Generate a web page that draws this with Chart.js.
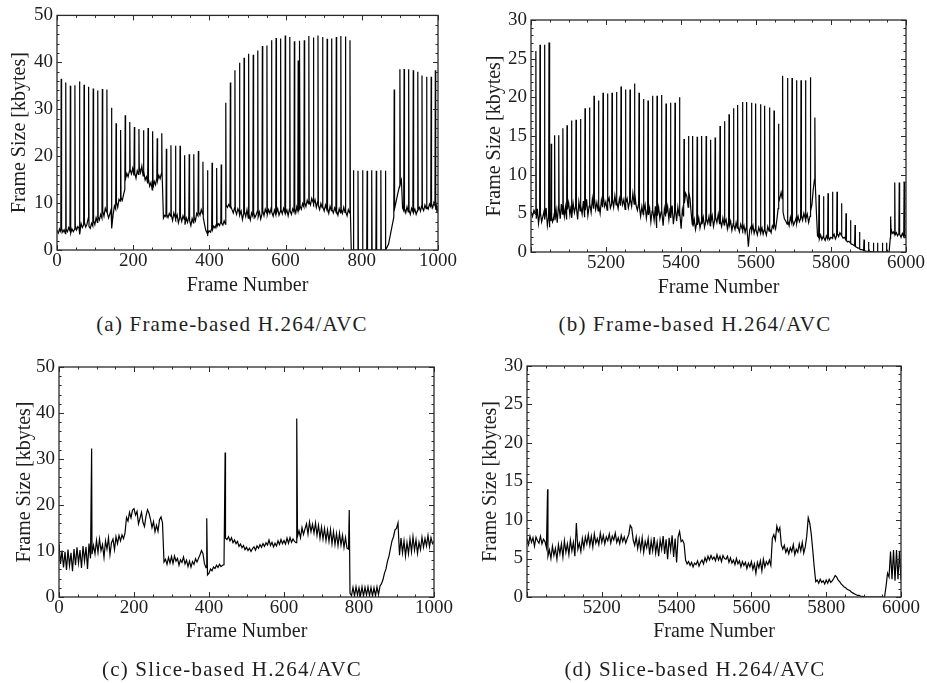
<!DOCTYPE html>
<html>
<head>
<meta charset="utf-8">
<title>Frame size traces</title>
<script src="https://cdn.jsdelivr.net/npm/chart.js@4.4.1/dist/chart.umd.min.js"></script>
<style>
  html, body { margin: 0; padding: 0; background: #fff; }
  #page { position: relative; width: 927px; height: 683px; overflow: hidden; }
  #page canvas { position: absolute; }
  .caption {
    position: absolute;
    width: 464px;
    text-align: center;
    font-family: 'Liberation Serif', serif;
    font-size: 21px;
    letter-spacing: 1.2px;
    line-height: 1;
    color: #1e1e1e;
    white-space: nowrap;
  }
</style>
</head>
<body>
<div id="page">
  <canvas id="chartA" width="463" height="300" style="left:0;top:0;width:463px;height:300px"></canvas>
  <canvas id="chartB" width="464" height="300" style="left:463px;top:0;width:464px;height:300px"></canvas>
  <canvas id="chartC" width="463" height="342" style="left:0;top:341px;width:463px;height:342px"></canvas>
  <canvas id="chartD" width="464" height="342" style="left:463px;top:341px;width:464px;height:342px"></canvas>
  <div class="caption" style="left:0;top:314px">(a) Frame-based H.264/AVC</div>
  <div class="caption" style="left:463px;top:314px">(b) Frame-based H.264/AVC</div>
  <div class="caption" style="left:0;top:659px">(c) Slice-based H.264/AVC</div>
  <div class="caption" style="left:463px;top:659px">(d) Slice-based H.264/AVC</div>
</div>
<script>
const FONT = "'Liberation Serif', serif";
const INK = '#1e1e1e';

// (a) frame-based, frames 0..1000
// I-frame positions and sizes; null = lead-in without an I-frame
const iFramesA = [0,
  11, 23, 35, 47, 59, 71, 83, 95, 107, 119, 131, 143, 155, 167, 179, 191, 203, 215, 227, 239, 251, 263, 275,
  287, 299, 311, 323, 335, 347, 359, 371, 383, 395, 407, 419, 431,
  443, 455, 467, 479, 491, 503, 515, 527, 539, 551, 563, 575, 587, 599, 611, 623, 633, 637,
  649, 661, 673, 685, 697, 709, 721, 733, 745, 757, 769,
  778, 790, 802, 814, 826, 838, 850, 862,
  885, 900, 911, 923, 935, 947, 958, 970, 982, 993];
const iSizesA = [null,
  36.5, 35.7, 35.0, 35.1, 35.9, 35.2, 34.8, 34.4, 34.0, 34.3, 34.2, 30.3, 27.0, 25.6, 28.7, 27.3, 26.2, 25.8, 25.5, 26.0, 25.3, 23.8, 24.9,
  21.6, 22.3, 22.2, 22.2, 20.2, 20.4, 20.4, 21.1, 18.8, 17.0, 18.6, 17.5, 18.2,
  31.4, 35.7, 38.3, 39.9, 41.0, 41.8, 41.6, 42.5, 43.5, 43.6, 44.7, 45.2, 45.1, 45.7, 45.4, 44.5, 40.4, 44.6,
  44.7, 45.6, 45.3, 45.7, 45.4, 45.0, 45.1, 45.4, 45.6, 45.5, 44.7,
  17.0, 16.9, 17.0, 16.9, 17.0, 16.9, 17.0, 16.9,
  34.2, 38.5, 38.6, 38.5, 38.3, 38.0, 37.2, 36.9, 36.9, 38.3];
// P/B frame sizes, four samples spread across each GOP
const pSizesA = [
  [4.2, 3.6, 4.5, 3.9],
  [4.6, 3.8, 4.3, 3.5], [4.4, 3.9, 4.8, 4.1], [3.6, 4.5, 3.9, 4.4], [5.2, 4.3, 5.0, 4.6],
  [3.3, 5.6, 4.8, 5.4], [5.8, 4.9, 5.5, 6.8], [5.0, 4.6, 5.7, 5.1], [6.2, 5.4, 6.9, 5.9],
  [7.1, 6.4, 7.6, 6.8], [8.3, 7.2, 8.9, 8.1], [7.9, 6.8, 7.7, 8.6], [4.6, 7.5, 9.4, 8.7],
  [10.2, 9.1, 10.8, 10.4], [11.2, 10.6, 11.8, 12.9], [15.2, 16.3, 15.6, 16.8], [17.1, 16.2, 17.4, 15.9],
  [16.4, 15.3, 16.9, 16.1], [17.6, 16.5, 17.9, 15.8], [16.8, 14.9, 15.6, 14.2], [15.1, 13.6, 14.4, 12.8],
  [13.2, 14.6, 13.9, 15.4], [14.8, 15.9, 15.2, 16.3], [16.1, 6.8, 7.4, 7.1],
  [7.6, 6.9, 7.8, 7.2], [7.4, 6.3, 7.9, 7.0], [6.6, 7.5, 5.8, 6.9], [7.2, 6.1, 7.3, 6.5],
  [5.4, 6.8, 5.9, 7.1], [6.3, 5.2, 6.7, 5.8], [7.0, 6.2, 7.8, 7.3], [8.1, 7.4, 8.6, 7.7],
  [6.9, 5.4, 4.2, 3.6], [3.4, 4.1, 3.8, 4.6], [4.3, 5.1, 4.7, 5.4], [5.0, 5.6, 5.2, 6.1],
  [5.7, 5.3, 6.2, 5.5],
  [9.6, 9.1, 9.7, 9.2], [9.4, 8.6, 7.9, 9.0], [8.5, 7.6, 8.8, 8.1], [7.4, 8.3, 6.5, 7.8],
  [8.2, 7.1, 8.6, 6.8], [7.6, 6.4, 7.9, 7.2], [8.0, 6.9, 7.5, 8.3], [7.1, 8.1, 6.6, 7.7],
  [8.4, 7.3, 8.7, 7.9], [7.5, 8.6, 7.8, 8.9], [8.1, 7.2, 8.5, 7.6], [7.9, 8.8, 7.4, 8.2],
  [8.6, 7.7, 8.9, 8.0], [7.8, 8.5, 7.3, 8.7], [8.3, 7.6, 8.8, 8.1], [8.7, 7.9, 9.2, 8.4],
  [8.9, 8.2, 9.3, 8.6], [9.4, 8.7, 9.9, 9.2],
  [10.1, 9.3, 10.6, 9.8], [10.4, 9.6, 11.0, 10.2], [9.8, 10.7, 9.1, 10.3], [9.5, 8.6, 9.9, 9.0],
  [9.2, 8.3, 9.6, 8.7], [8.9, 7.8, 9.3, 8.4], [8.6, 7.9, 9.0, 8.2], [8.3, 7.4, 8.8, 7.9],
  [8.7, 7.8, 9.1, 8.0], [8.2, 7.3, 8.6, 7.9], [8.3, 0, 0, 0],
  [0, 0, 0, 0], [0, 0, 0, 0], [0, 0, 0, 0], [0, 0, 0, 0],
  [0, 0, 0, 0], [0, 0, 0, 0], [0, 0, 0, 0], [0, 1.2, 4.1, 7.0],
  [8.8, 10.4, 12.1, 13.6], [14.0, 14.9, 9.0, 8.4], [8.8, 7.9, 9.2, 8.1], [8.5, 7.6, 8.9, 8.2],
  [8.0, 8.7, 7.6, 8.4], [8.6, 9.1, 8.3, 9.4], [9.0, 8.4, 9.6, 8.8], [9.3, 8.7, 9.8, 9.2],
  [9.7, 9.0, 10.1, 9.5], [8.6, 9.4, 8.1, 8.8]];
const endA = 1000;

// (b) frame-based, frames 5000..6000
const iFramesB = [5000,
  5013, 5024, 5036, 5048, 5054, 5063, 5074, 5085, 5096,
  5108, 5120, 5132, 5144, 5156, 5168, 5180, 5192, 5204, 5216, 5228, 5240, 5252, 5264,
  5276, 5288, 5300, 5312, 5324, 5336, 5348, 5360, 5372, 5384, 5396, 5408, 5420,
  5431, 5443, 5455, 5467, 5479, 5491, 5504, 5516, 5528, 5540, 5551,
  5564, 5575, 5588, 5599, 5612, 5623, 5636, 5648, 5660, 5671,
  5684, 5696, 5708, 5720, 5732, 5745, 5757,
  5768, 5780, 5792, 5804, 5816, 5828, 5840, 5852, 5864, 5876, 5888, 5900,
  5913, 5924, 5937, 5948, 5959, 5970, 5982, 5995];
const iSizesB = [null,
  26.0, 26.8, 26.8, 27.1, 14.0, 15.1, 15.1, 16.0, 16.4,
  17.0, 17.1, 17.2, 18.6, 18.7, 20.2, 19.6, 20.6, 20.5, 20.6, 20.7, 21.4, 21.0, 21.0,
  21.8, 20.6, 19.8, 19.6, 20.2, 20.2, 20.3, 19.2, 19.3, 19.3, 20.0, 14.6, 15.0,
  15.0, 14.9, 15.0, 15.0, 14.5, 14.8, 16.3, 16.9, 17.8, 18.6, 19.0,
  19.4, 19.4, 19.3, 19.2, 19.1, 18.9, 18.7, 18.3, 16.6, 22.8,
  22.5, 22.5, 22.2, 22.2, 22.2, 22.6, 17.4,
  7.4, 7.2, 7.6, 7.8, 7.8, 6.3, 5.0, 4.1, 3.5, 2.6, 1.6, 1.3,
  1.2, 1.2, 1.2, 1.2, 4.6, 9.0, 9.0, 9.1];
const pSizesB = [
  [5.2, 4.6, 5.4, 4.9],
  [4.3, 5.6, 3.7, 4.8], [5.1, 3.9, 4.6, 5.3], [4.2, 5.7, 3.4, 4.5], [3.2, 5.1, 4.4, 4.0],
  [4.6, 3.9, 4.2, 5.0], [4.1, 5.4, 3.8, 5.9], [5.7, 4.3, 6.2, 4.9], [6.1, 4.6, 5.8, 4.2],
  [5.5, 6.4, 4.8, 6.0],
  [4.4, 6.3, 5.1, 5.9], [5.8, 4.2, 6.5, 5.3], [6.0, 4.9, 6.6, 4.5], [5.4, 6.8, 4.7, 5.9],
  [6.3, 5.1, 6.9, 5.6], [7.0, 5.5, 6.4, 5.3], [6.2, 5.0, 6.7, 5.8], [7.1, 5.9, 6.5, 5.4],
  [6.4, 7.0, 5.7, 6.2], [6.9, 5.8, 7.3, 6.1], [6.6, 5.6, 6.9, 6.0], [7.2, 6.1, 6.8, 5.5],
  [6.3, 6.9, 5.7, 6.5], [6.8, 5.9, 7.6, 6.2],
  [7.7, 6.0, 5.4, 6.3], [5.8, 4.6, 5.9, 4.9], [5.2, 6.1, 4.4, 5.6], [4.8, 5.7, 3.9, 5.3],
  [5.5, 4.1, 5.9, 3.1], [4.7, 5.8, 4.3, 5.2], [5.4, 3.4, 5.6, 4.6], [5.0, 5.9, 4.2, 5.7],
  [4.4, 6.0, 3.6, 5.1], [5.6, 4.0, 5.8, 4.7], [5.2, 3.0, 5.5, 4.6], [6.3, 7.6, 7.2, 5.8],
  [7.8, 6.9, 5.1, 3.6],
  [3.3, 4.2, 2.9, 3.8], [3.5, 4.4, 3.1, 3.9], [3.6, 4.5, 3.2, 4.0], [4.3, 3.7, 4.6, 3.4],
  [3.9, 4.7, 3.3, 4.2], [4.5, 3.8, 4.9, 3.6], [4.0, 3.3, 4.4, 3.5], [3.7, 4.2, 3.0, 3.9],
  [3.4, 4.0, 2.8, 3.6], [3.5, 2.9, 3.8, 3.1], [3.3, 2.6, 3.6, 3.0],
  [2.8, 3.4, 2.5, 3.2], [3.0, 0.7, 2.9, 3.3], [2.7, 3.4, 2.4, 3.0], [2.9, 2.2, 3.2, 2.6],
  [2.5, 3.1, 2.3, 2.9], [2.8, 2.2, 3.3, 2.7], [3.0, 2.5, 3.4, 3.1], [3.6, 3.0, 4.2, 5.6],
  [6.4, 7.1, 7.7, 6.9], [5.2, 4.3, 4.0, 3.6],
  [4.1, 3.4, 4.5, 3.8], [4.2, 3.5, 3.9, 4.4], [3.7, 4.6, 3.9, 4.3], [4.8, 4.1, 5.0, 4.4],
  [4.2, 4.9, 3.8, 4.6], [5.3, 6.2, 8.1, 9.4], [8.9, 5.2, 2.1, 1.9],
  [1.7, 2.2, 1.6, 2.0], [1.9, 1.5, 2.1, 1.7], [2.0, 1.6, 1.9, 1.8], [1.9, 2.3, 1.7, 2.1],
  [2.4, 2.0, 2.5, 2.2], [2.1, 1.8, 1.9, 1.6], [1.5, 1.3, 1.4, 1.2], [1.1, 1.0, 0.9, 0.8],
  [0.7, 0.6, 0.5, 0.5], [0.4, 0.3, 0.3, 0.2], [0.2, 0.1, 0.1, 0.1], [0.1, 0.05, 0.05, 0],
  [0, 0, 0, 0], [0, 0, 0, 0], [0, 0, 0, 0], [0, 0, 0, 1.8],
  [3.1, 2.4, 2.6, 2.3], [2.2, 2.5, 2.1, 2.4], [2.3, 1.9, 2.4, 2.0], [2.1, 2.3, 2.0, 2.2]];
const endB = 6000;

// (c) slice-based, one sample every 4 frames from frame 0, plus isolated spikes
const startC = 0;
const stepC = 4;
const sizesC = [
  11.5, 7.2, 10.1, 6.4, 9.8, 5.9, 10.3, 6.8, 9.6, 5.6, 10.4, 6.9, 10.8, 7.4, 10.2, 6.3, 11.1, 7.8, 10.9, 6.1, 11.6, 8.4, 9.3, 11.2, 9.4,
  12.3, 9.7, 12.6, 10.1, 11.4, 8.6, 12.2, 10.4, 12.9, 9.2, 11.8, 12.6, 10.3, 13.1, 11.6, 13.4, 12.2, 13.5, 12.7, 13.9, 17.3, 16.5, 18.4, 17.2, 18.9,
  19.2, 17.8, 18.6, 15.9, 17.1, 18.4, 16.2, 15.3, 17.6, 19.0, 18.2, 16.9, 15.1, 16.4, 14.2, 15.6, 14.3, 16.8, 17.4, 16.1, 7.6, 8.2, 7.1, 8.6, 7.4,
  8.8, 7.3, 8.9, 7.8, 8.4, 6.9, 8.1, 7.5, 8.7, 7.2, 8.0, 6.6, 7.8, 6.5, 7.7, 7.1, 8.3, 7.6, 8.4, 9.2, 10.1, 9.4, 7.2, 6.4, 4.8,
  5.2, 6.1, 5.7, 6.5, 6.2, 6.9, 6.4, 7.1, 6.6, 6.9, 7.0, 12.8, 12.5, 13.1, 12.2, 12.9, 11.8, 12.4, 11.6, 12.1, 11.0, 11.5, 10.7, 11.2, 10.3,
  10.8, 10.1, 10.6, 9.9, 10.5, 10.9, 10.2, 11.1, 10.6, 11.4, 10.8, 11.6, 11.0, 11.8, 11.3, 12.4, 11.2, 11.9, 10.9, 11.7, 11.1, 12.2, 11.4, 12.5, 11.6,
  12.3, 11.5, 12.8, 11.7, 12.9, 11.9, 12.6, 12.1, 11.8, 13.2, 14.4, 12.9, 15.1, 13.6, 14.8, 15.9, 13.7, 16.3, 14.2, 15.8, 13.9, 16.1, 13.4, 15.6, 12.8,
  15.2, 12.6, 14.9, 12.3, 14.6, 12.1, 14.7, 11.6, 14.2, 11.4, 13.8, 11.2, 13.9, 11.3, 13.4, 10.8, 12.9, 10.6, 10.4, 0.8, 0.3, 2.1, 0.2, 2.2, 0.4,
  2.0, 0.3, 2.2, 0.2, 2.1, 0.4, 2.2, 0.3, 2.1, 0.2, 2.0, 0.3, 2.2, 0.5, 2.4, 2.9, 3.8, 5.2, 6.1, 7.8, 8.9, 10.6, 12.2, 13.1, 14.6,
  14.9, 16.1, 9.1, 12.8, 9.6, 12.2, 8.9, 11.8, 9.4, 12.6, 9.8, 13.1, 10.2, 12.4, 9.5, 11.9, 10.3, 13.0, 10.8, 12.7, 11.1, 13.4, 10.9, 12.9, 11.6,
  12.1];
const spikesC = [[87, 32.3], [394, 17.1], [443, 31.4], [634, 38.8], [774, 18.9]];

// (d) slice-based, one sample every 4 frames from frame 5000
const startD = 5000;
const stepD = 4;
const sizesD = [
  7.6, 6.8, 7.9, 7.1, 7.7, 6.6, 7.8, 7.3, 7.0, 7.9, 6.9, 7.5, 7.2, 6.4, 5.3, 6.1, 5.0, 6.6, 5.4, 6.3, 4.9, 6.8, 5.6, 6.9, 5.2,
  7.3, 5.8, 6.9, 5.5, 7.4, 6.0, 7.1, 5.3, 9.6, 6.2, 7.0, 5.9, 7.6, 6.4, 7.8, 6.9, 8.1, 6.7, 7.9, 6.5, 8.2, 7.0, 7.6, 6.8, 8.3,
  7.1, 8.0, 6.9, 7.8, 7.3, 8.2, 7.0, 7.9, 7.4, 8.3, 7.1, 7.7, 6.9, 8.0, 7.2, 7.8, 7.0, 7.6, 8.1, 9.3, 9.0, 7.4, 6.7, 7.8, 6.3,
  7.5, 6.1, 7.7, 5.8, 7.2, 6.4, 7.6, 5.5, 7.3, 6.0, 7.8, 5.7, 7.1, 5.3, 7.4, 6.2, 7.9, 5.6, 7.5, 4.9, 7.7, 6.1, 8.0, 5.2, 7.6,
  4.5, 7.8, 8.5, 7.2, 7.4, 6.9, 4.8, 4.3, 4.6, 4.1, 4.5, 3.9, 4.4, 4.2, 4.7, 4.0, 4.5, 4.8, 4.3, 5.1, 4.6, 5.3, 4.8, 5.4, 4.9,
  5.2, 4.7, 5.5, 4.8, 5.3, 4.6, 5.4, 5.0, 4.9, 5.3, 4.5, 5.1, 4.4, 4.8, 4.2, 5.0, 4.3, 4.7, 3.9, 4.6, 4.1, 4.5, 3.7, 4.4, 3.9,
  4.6, 3.6, 4.3, 3.1, 4.5, 3.8, 4.7, 3.4, 4.9, 3.9, 4.6, 4.2, 4.8, 4.1, 7.6, 8.1, 7.4, 9.2, 8.5, 9.0, 6.8, 6.2, 6.7, 5.8, 6.3,
  5.6, 6.4, 5.9, 6.8, 5.5, 6.2, 5.8, 6.9, 6.0, 7.1, 5.7, 6.5, 7.9, 10.3, 9.6, 8.2, 6.1, 3.9, 2.0, 2.2, 1.8, 2.3, 1.9, 2.1, 1.7,
  2.2, 1.8, 2.3, 1.9, 2.1, 2.4, 2.8, 2.6, 2.2, 2.0, 1.7, 1.5, 1.3, 1.2, 1.0, 0.9, 0.8, 0.6, 0.5, 0.4, 0.3, 0.2, 0.2, 0.1, 0.1,
  0.05, 0, 0, 0, 0, 0, 0, 0, 0, 0, 0, 0, 0, 0, 0, 1.4, 3.1, 2.6, 5.9, 2.3, 6.1, 2.1, 6.1, 2.3, 6.0,
  2.2];
const spikesD = [[5055, 14.0]];

// axis labels
const xTicksA = [0, 200, 400, 600, 800, 1000];
const yTicksA = [0, 10, 20, 30, 40, 50];
const xTicksB = [5200, 5400, 5600, 5800, 6000];
const yTicksB = [0, 5, 10, 15, 20, 25, 30];

// I-frame peak followed by P/B samples spread over the GOP
function gopTrace(iFrames, iSizes, pSizes, end) {
  const pts = [];
  iFrames.forEach((start, g) => {
    const next = g + 1 < iFrames.length ? iFrames[g + 1] : end;
    const first = iSizes[g] === null ? start : start + 1;
    if (iSizes[g] !== null) pts.push({ x: start, y: iSizes[g] });
    const row = pSizes[g];
    const span = next - 1 - first;
    row.forEach((v, k) => {
      pts.push({ x: first + (k * span) / (row.length - 1), y: v });
    });
  });
  return pts;
}

function sliceTrace(start, step, sizes, spikes) {
  const pts = sizes.map((v, i) => ({ x: start + i * step, y: v }));
  spikes.forEach(([f, v]) => pts.push({ x: f, y: v }));
  return pts.sort((a, b) => a.x - b.x);
}

// box round the plot with inward ticks on all four sides
const frameBox = {
  id: 'frameBox',
  afterDatasetsDraw(chart, args, opts) {
    const { ctx, chartArea: a } = chart;
    const { x, y } = chart.scales;
    ctx.save();
    ctx.strokeStyle = '#2a2a2a';
    ctx.lineWidth = 1;
    ctx.beginPath();
    for (let v = x.min; v <= x.max; v += opts.xMinor) {
      const px = Math.round(x.getPixelForValue(v)) + 0.5;
      const len = v % opts.xMajor === 0 ? 5 : 2.5;
      ctx.moveTo(px, a.bottom);
      ctx.lineTo(px, a.bottom - len);
      ctx.moveTo(px, a.top);
      ctx.lineTo(px, a.top + len);
    }
    for (let v = y.min; v <= y.max; v += opts.yMinor) {
      const py = Math.round(y.getPixelForValue(v)) + 0.5;
      const len = v % opts.yMajor === 0 ? 5 : 2.5;
      ctx.moveTo(a.left, py);
      ctx.lineTo(a.left + len, py);
      ctx.moveTo(a.right, py);
      ctx.lineTo(a.right - len, py);
    }
    ctx.stroke();
    ctx.lineWidth = 1.3;
    ctx.strokeRect(a.left, a.top, a.right - a.left, a.bottom - a.top);
    ctx.restore();
  },
};

Chart.defaults.font.family = FONT;
Chart.defaults.color = INK;

const tickFont = { family: FONT, size: 19 };
const titleFont = { family: FONT, size: 20 };

function makePanel(id, points, p) {
  return new Chart(document.getElementById(id), {
    type: 'line',
    data: {
      datasets: [{
        data: points,
        borderColor: '#000',
        borderWidth: 1.2,
        pointRadius: 0,
        tension: 0,
        fill: false,
      }],
    },
    options: {
      responsive: false,
      animation: false,
      devicePixelRatio: 1,
      parsing: false,
      layout: { padding: p.padding },
      plugins: {
        legend: { display: false },
        tooltip: { enabled: false },
        frameBox: p.frame,
      },
      scales: {
        x: {
          type: 'linear',
          min: p.xMin,
          max: p.xMax,
          afterFit: (s) => { s.height = p.xHeight; },
          afterBuildTicks: (s) => { s.ticks = p.xTicks.map((v) => ({ value: v })); },
          ticks: {
            font: tickFont,
            padding: 0,
            maxRotation: 0,
            autoSkip: false,
            color: INK,
            callback: (v) => String(v),
          },
          grid: { display: false, drawTicks: false },
          border: { display: false },
          title: { display: true, text: 'Frame Number', font: titleFont, padding: 0, color: INK },
        },
        y: {
          min: p.yMin,
          max: p.yMax,
          afterFit: (s) => { s.width = p.yWidth; },
          afterBuildTicks: (s) => { s.ticks = p.yTicks.map((v) => ({ value: v })); },
          ticks: { font: tickFont, padding: 4, color: INK, callback: (v) => String(v) },
          grid: { display: false, drawTicks: false },
          border: { display: false },
          title: {
            display: true,
            text: 'Frame Size [kbytes]',
            font: titleFont,
            padding: { top: p.yTitlePad, bottom: 0 },
            color: INK,
          },
        },
      },
    },
    plugins: [frameBox],
  });
}

makePanel('chartA', gopTrace(iFramesA, iSizesA, pSizesA, endA), {
  padding: { left: 0, top: 15, right: 25, bottom: 2 },
  xMin: 0, xMax: 1000, yMin: 0, yMax: 50,
  xTicks: xTicksA, yTicks: yTicksA,
  xHeight: 48, yWidth: 57, yTitlePad: 8,
  frame: { xMinor: 50, xMajor: 200, yMinor: 2, yMajor: 10 },
});

makePanel('chartB', gopTrace(iFramesB, iSizesB, pSizesB, endB), {
  padding: { left: 0, top: 20, right: 21, bottom: 0 },
  xMin: 5000, xMax: 6000, yMin: 0, yMax: 30,
  xTicks: xTicksB, yTicks: yTicksB,
  xHeight: 48, yWidth: 68, yTitlePad: 20,
  frame: { xMinor: 50, xMajor: 200, yMinor: 1, yMajor: 5 },
});

makePanel('chartC', sliceTrace(startC, stepC, sizesC, spikesC), {
  padding: { left: 0, top: 26, right: 29, bottom: 39 },
  xMin: 0, xMax: 1000, yMin: 0, yMax: 50,
  xTicks: xTicksA, yTicks: yTicksA,
  xHeight: 47, yWidth: 59, yTitlePad: 13,
  frame: { xMinor: 50, xMajor: 200, yMinor: 2, yMajor: 10 },
});

makePanel('chartD', sliceTrace(startD, stepD, sizesD, spikesD), {
  padding: { left: 0, top: 25, right: 26, bottom: 39 },
  xMin: 5000, xMax: 6000, yMin: 0, yMax: 30,
  xTicks: xTicksB, yTicks: yTicksB,
  xHeight: 47, yWidth: 64, yTitlePad: 16,
  frame: { xMinor: 50, xMajor: 200, yMinor: 1, yMajor: 5 },
});
</script>
</body>
</html>
